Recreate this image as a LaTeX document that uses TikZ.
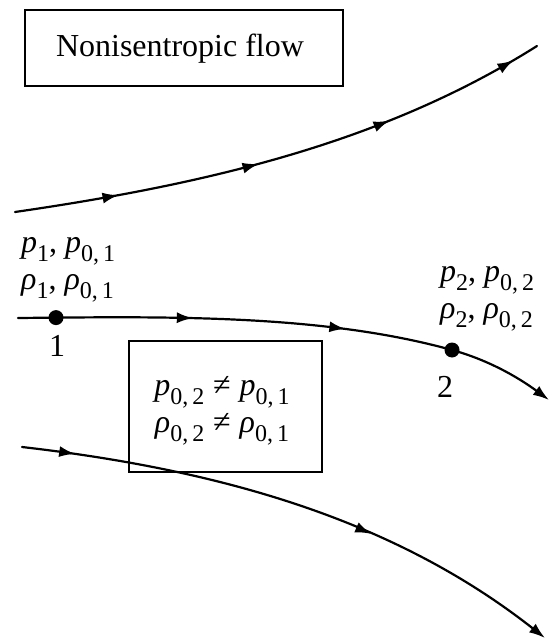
\documentclass[tikz,border=0pt]{standalone}
\usepackage{fontspec}
\setmainfont{Liberation Serif}
\usetikzlibrary{arrows.meta,decorations.markings}
\newcommand\sbs[1]{\raisebox{-0.28em}{\fontsize{24}{24}\selectfont #1}}
\newcommand\vp{\textit{p}}
\newcommand\vr{\textit{ρ}}
\tikzset{
  tip/.tip={Latex[length=16pt,width=11pt]},
  flowline/.style={line width=2.2pt, line cap=round},
  midarrow/.style={postaction={decorate,decoration={markings,mark=at position #1 with {\arrow{tip}}}}},
  framebox/.style={draw, line width=1.8pt, inner sep=0pt},
  dot/.style={circle, fill=black, inner sep=0pt, minimum size=15pt},
  lbl/.style={font=\fontsize{32}{37}\selectfont, inner sep=0pt, align=left},
}
\begin{document}
\begin{tikzpicture}[x=1pt,y=-1pt]
\useasboundingbox (0,0) rectangle (549,639);
% title box
\node[framebox, minimum width=318pt, minimum height=76pt] (title) at (184,48) {};
\node[inner sep=0pt, font=\fontsize{32}{36}\selectfont] (titletxt) at (180,49) {Nonisentropic flow};
% condition box
\node[framebox, minimum width=193pt, minimum height=131pt] (cond) at (225.5,406.5) {};
\node[lbl, align=center] (condtxt) at (222,411) {\vp\sbs{0,\,2}\;≠\;\vp\sbs{0,\,1}\\ \vr\sbs{0,\,2}\;≠\;\vr\sbs{0,\,1}};
% top streamline
\coordinate (t0) at (15,212);
\coordinate (t1) at (537,46);
\draw[flowline, midarrow=0.19, midarrow=0.45, midarrow=0.70, midarrow=0.95]
  (t0) .. controls (215,183) and (387,140.5) .. (t1);
% middle streamline
\coordinate (m0) at (18,318);
\coordinate (m1) at (549,400);
\node[dot] (d1) at (56,317.6) {};
\node[dot] (d2) at (452,350) {};
\draw[flowline, -{tip}, midarrow=0.32, midarrow=0.60]
  (m0) .. controls (168,316.5) and (322,314) .. (d2.center)
       .. controls (485,359) and (515,375) .. (m1);
% bottom streamline
\coordinate (b0) at (22,447);
\coordinate (b1) at (545,638);
\draw[flowline, -{tip}, midarrow=0.095, midarrow=0.64]
  (b0) .. controls (222,470) and (395,520) .. (b1);
% labels
\node[lbl, anchor=west] (l1) at (21,270) {\vp\sbs{1}, \vp\sbs{0,\,1}\\ \vr\sbs{1}, \vr\sbs{0,\,1}};
\node[lbl, anchor=west] (l2) at (440,299) {\vp\sbs{2}, \vp\sbs{0,\,2}\\ \vr\sbs{2}, \vr\sbs{0,\,2}};
\node[lbl] (n1) at (57,346) {1};
\node[lbl] (n2) at (445,387) {2};
\end{tikzpicture}
\end{document}
